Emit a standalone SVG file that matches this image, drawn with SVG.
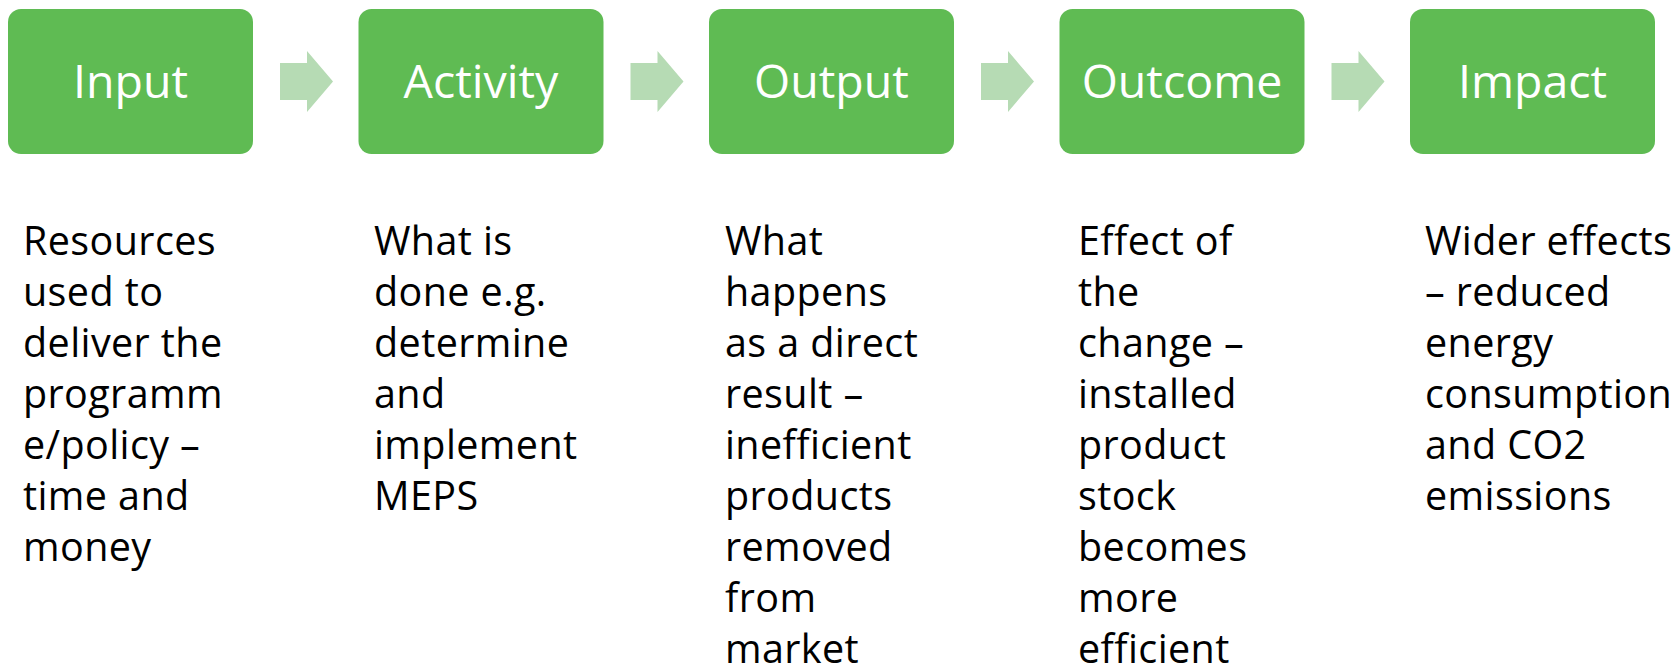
<svg xmlns="http://www.w3.org/2000/svg" width="1678" height="667" viewBox="0 0 1678 667">
  <style>
    .box { fill: #5FBB53; }
    .title { font-family: "Open Sans", "Noto Sans", sans-serif; font-size: 46.5px; fill: #FFFFFF; text-anchor: middle; }
    .desc { font-family: "Open Sans", "Noto Sans", sans-serif; font-size: 39.5px; letter-spacing: 0.4px; fill: #000000; }
    .arrow { fill: #B6DBB4; }
  </style>
  <defs>
    <!-- block arrow pointing right, centred on x=0 -->
    <polygon id="flow-arrow" class="arrow" points="-26,63 1,63 1,51 27,81.5 1,112 1,100 -26,100"/>
  </defs>
  <rect width="1678" height="667" fill="#FFFFFF"/>

  <g id="connectors">
    <use href="#flow-arrow" x="306"/>
    <use href="#flow-arrow" x="656.5"/>
    <use href="#flow-arrow" x="1007"/>
    <use href="#flow-arrow" x="1357.5"/>
  </g>

  <g id="input">
    <rect class="box" x="8" y="9" width="245" height="145" rx="13"/>
    <text class="title" x="130.5" y="98">Input</text>
    <text class="desc">
      <tspan x="23" y="255">Resources</tspan>
      <tspan x="23" y="306">used to</tspan>
      <tspan x="23" y="357">deliver the</tspan>
      <tspan x="23" y="408">programm</tspan>
      <tspan x="23" y="459">e/policy –</tspan>
      <tspan x="23" y="510">time and</tspan>
      <tspan x="23" y="561">money</tspan>
    </text>
  </g>

  <g id="activity">
    <rect class="box" x="358.5" y="9" width="245" height="145" rx="13"/>
    <text class="title" x="481" y="98">Activity</text>
    <text class="desc">
      <tspan x="374" y="255">What is</tspan>
      <tspan x="374" y="306">done e.g.</tspan>
      <tspan x="374" y="357">determine</tspan>
      <tspan x="374" y="408">and</tspan>
      <tspan x="374" y="459">implement</tspan>
      <tspan x="374" y="510">MEPS</tspan>
    </text>
  </g>

  <g id="output">
    <rect class="box" x="709" y="9" width="245" height="145" rx="13"/>
    <text class="title" x="831.5" y="98">Output</text>
    <text class="desc">
      <tspan x="725" y="255">What</tspan>
      <tspan x="725" y="306">happens</tspan>
      <tspan x="725" y="357">as a direct</tspan>
      <tspan x="725" y="408">result –</tspan>
      <tspan x="725" y="459">inefficient</tspan>
      <tspan x="725" y="510">products</tspan>
      <tspan x="725" y="561">removed</tspan>
      <tspan x="725" y="612">from</tspan>
      <tspan x="725" y="663">market</tspan>
    </text>
  </g>

  <g id="outcome">
    <rect class="box" x="1059.5" y="9" width="245" height="145" rx="13"/>
    <text class="title" x="1182" y="98">Outcome</text>
    <text class="desc">
      <tspan x="1078" y="255">Effect of</tspan>
      <tspan x="1078" y="306">the</tspan>
      <tspan x="1078" y="357">change –</tspan>
      <tspan x="1078" y="408">installed</tspan>
      <tspan x="1078" y="459">product</tspan>
      <tspan x="1078" y="510">stock</tspan>
      <tspan x="1078" y="561">becomes</tspan>
      <tspan x="1078" y="612">more</tspan>
      <tspan x="1078" y="663">efficient</tspan>
    </text>
  </g>

  <g id="impact">
    <rect class="box" x="1410" y="9" width="245" height="145" rx="13"/>
    <text class="title" x="1532.5" y="98">Impact</text>
    <text class="desc">
      <tspan x="1425" y="255">Wider effects</tspan>
      <tspan x="1425" y="306">– reduced</tspan>
      <tspan x="1425" y="357">energy</tspan>
      <tspan x="1425" y="408">consumption</tspan>
      <tspan x="1425" y="459">and CO2</tspan>
      <tspan x="1425" y="510">emissions</tspan>
    </text>
  </g>
</svg>
